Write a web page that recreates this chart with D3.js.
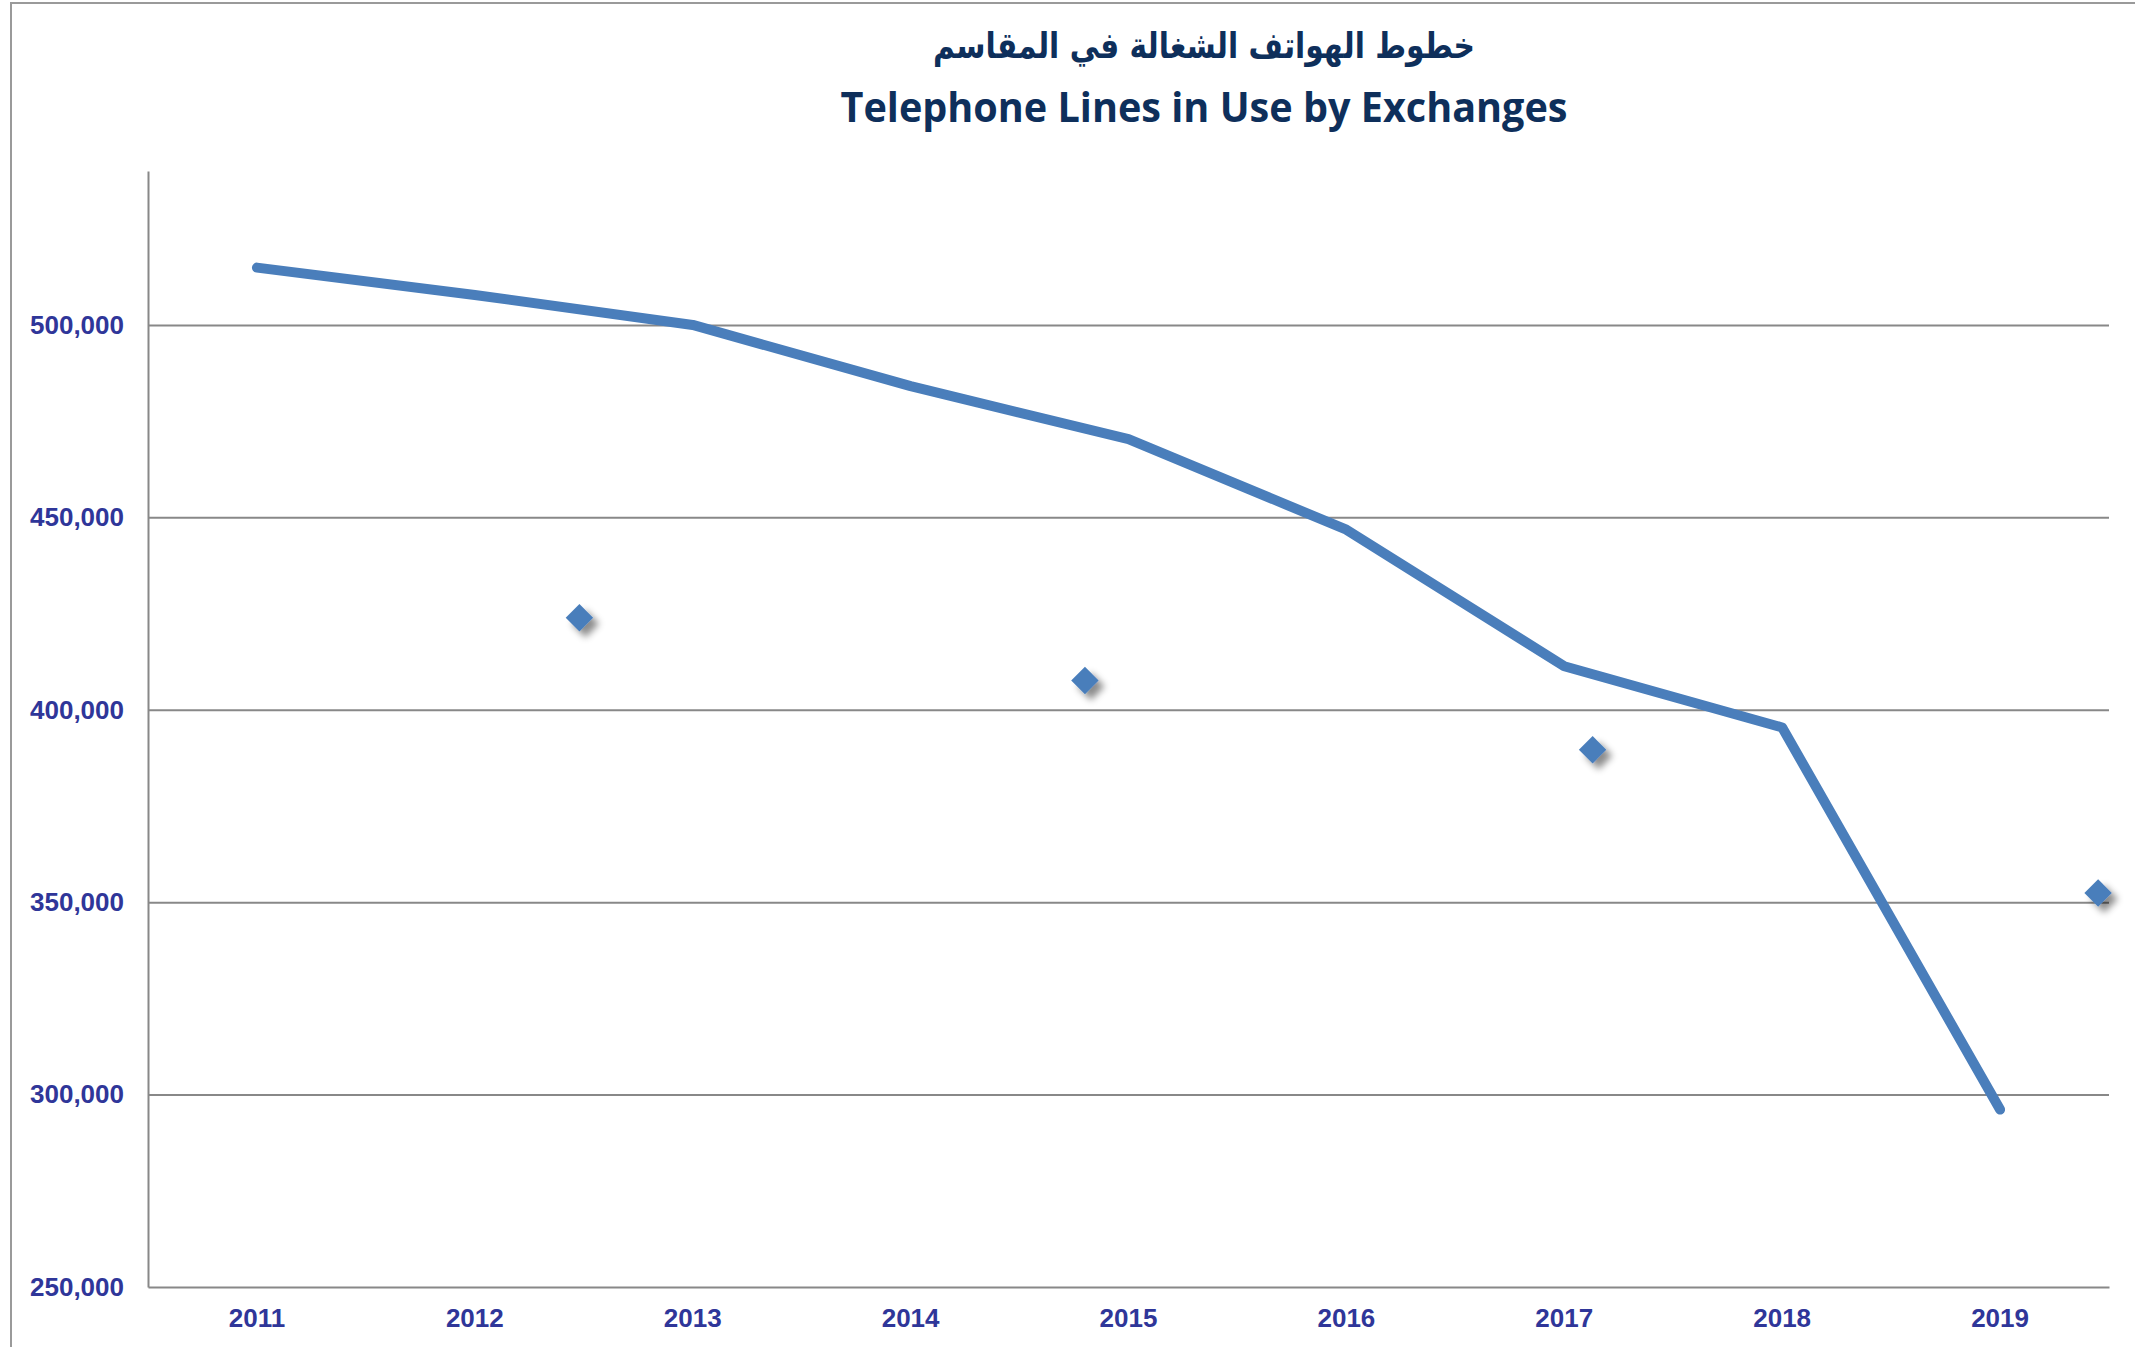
<!DOCTYPE html>
<html>
<head>
<meta charset="utf-8">
<script src="https://cdn.jsdelivr.net/npm/d3@7"></script>
<style>
  body { margin: 0; background: #fff; }
  svg { display: block; }
</style>
</head>
<body>
<div id="chart"></div>
<script>
// data
const years = ["2011", "2012", "2013", "2014", "2015", "2016", "2017", "2018", "2019"];
const lines = [514900, 507800, 500000, 484100, 470300, 446800, 411300, 395400, 296100];
// second series: diamonds, x given in category units (0 = 2011)
const markerPos = [1.48, 3.80, 6.13, 8.45];
const markerVals = [423900, 407600, 389600, 352400];
const yTicks = [250000, 300000, 350000, 400000, 450000, 500000];

const titleAr = "خطوط الهواتف الشغالة في المقاسم";
const titleEn = "Telephone Lines in Use by Exchanges";

const width = 2135, height = 1347;
const margin = { top: 171, right: 26, bottom: 60, left: 148 };
const blue = "#4A7EBB";
const labelColor = "#2F3699";

const svg = d3.select("#chart")
  .append("svg")
  .attr("width", width)
  .attr("height", height);

const defs = svg.append("defs");
const shadow = defs.append("filter")
  .attr("id", "shadow")
  .attr("x", "-50%").attr("y", "-50%")
  .attr("width", "200%").attr("height", "200%");
shadow.append("feDropShadow")
  .attr("dx", 6).attr("dy", 6)
  .attr("stdDeviation", 3.5)
  .attr("flood-color", "#000")
  .attr("flood-opacity", 0.45);

// outer frame (runs off the right and bottom)
svg.append("rect")
  .attr("x", 11).attr("y", 3)
  .attr("width", width + 20).attr("height", height + 20)
  .attr("fill", "none")
  .attr("stroke", "#9a9a9a")
  .attr("stroke-width", 2);

const x = d3.scaleBand()
  .domain(years)
  .range([margin.left, width - margin.right]);

const xi = d3.scaleLinear()
  .domain([-0.5, years.length - 0.5])
  .range([margin.left, width - margin.right]);

const y = d3.scaleLinear()
  .domain([250000, 540000])
  .range([height - margin.bottom, margin.top]);

// gridlines
svg.append("g")
  .attr("transform", `translate(${margin.left},0)`)
  .call(d3.axisLeft(y)
    .tickValues(yTicks.slice(1))
    .tickSize(-(width - margin.left - margin.right))
    .tickFormat(""))
  .call(g => g.select(".domain").remove())
  .call(g => g.selectAll("line")
    .attr("stroke", "#888")
    .attr("stroke-width", 2));

// y axis
const yAxis = svg.append("g")
  .attr("transform", `translate(${margin.left},0)`)
  .call(d3.axisLeft(y)
    .tickValues(yTicks)
    .tickSize(0)
    .tickPadding(24)
    .tickFormat(d3.format(",")));
yAxis.select(".domain")
  .attr("stroke", "#888")
  .attr("stroke-width", 2);
yAxis.selectAll("text")
  .attr("fill", labelColor)
  .style("font-family", "'Liberation Sans', Arial, sans-serif")
  .style("font-weight", "bold")
  .style("font-size", "26px");

// x axis
const xAxis = svg.append("g")
  .attr("transform", `translate(0,${height - margin.bottom})`)
  .call(d3.axisBottom(x).tickSize(0).tickPadding(22));
xAxis.select(".domain")
  .attr("stroke", "#888")
  .attr("stroke-width", 2);
xAxis.selectAll("text")
  .attr("fill", labelColor)
  .style("font-family", "'Liberation Sans', Arial, sans-serif")
  .style("font-weight", "bold")
  .style("font-size", "26px");

// line series
const line = d3.line()
  .x((d, i) => x(years[i]) + x.bandwidth() / 2)
  .y(d => y(d));

svg.append("path")
  .datum(lines)
  .attr("d", line)
  .attr("fill", "none")
  .attr("stroke", blue)
  .attr("stroke-width", 10)
  .attr("stroke-linejoin", "round")
  .attr("stroke-linecap", "round");

// diamond markers
svg.append("g")
  .selectAll("path")
  .data(markerVals)
  .join("path")
  .attr("d", d3.symbol().type(d3.symbolDiamond2).size(480))
  .attr("transform", (d, i) => `translate(${xi(markerPos[i])},${y(d)})`)
  .attr("fill", blue)
  .attr("filter", "url(#shadow)");

// titles
svg.append("text")
  .attr("x", 1204).attr("y", 58)
  .attr("text-anchor", "middle")
  .attr("direction", "rtl")
  .attr("fill", "#0E2F5B")
  .attr("textLength", 542)
  .attr("lengthAdjust", "spacingAndGlyphs")
  .style("font-family", "'DejaVu Sans', sans-serif")
  .style("font-weight", "bold")
  .style("font-size", "36px")
  .text(titleAr);

svg.append("text")
  .attr("x", 1204).attr("y", 122)
  .attr("text-anchor", "middle")
  .attr("fill", "#0E2F5B")
  .attr("textLength", 727)
  .attr("lengthAdjust", "spacingAndGlyphs")
  .style("font-family", "'Open Sans', 'Noto Sans', sans-serif")
  .style("font-weight", "bold")
  .style("font-size", "42px")
  .text(titleEn);
</script>
</body>
</html>
